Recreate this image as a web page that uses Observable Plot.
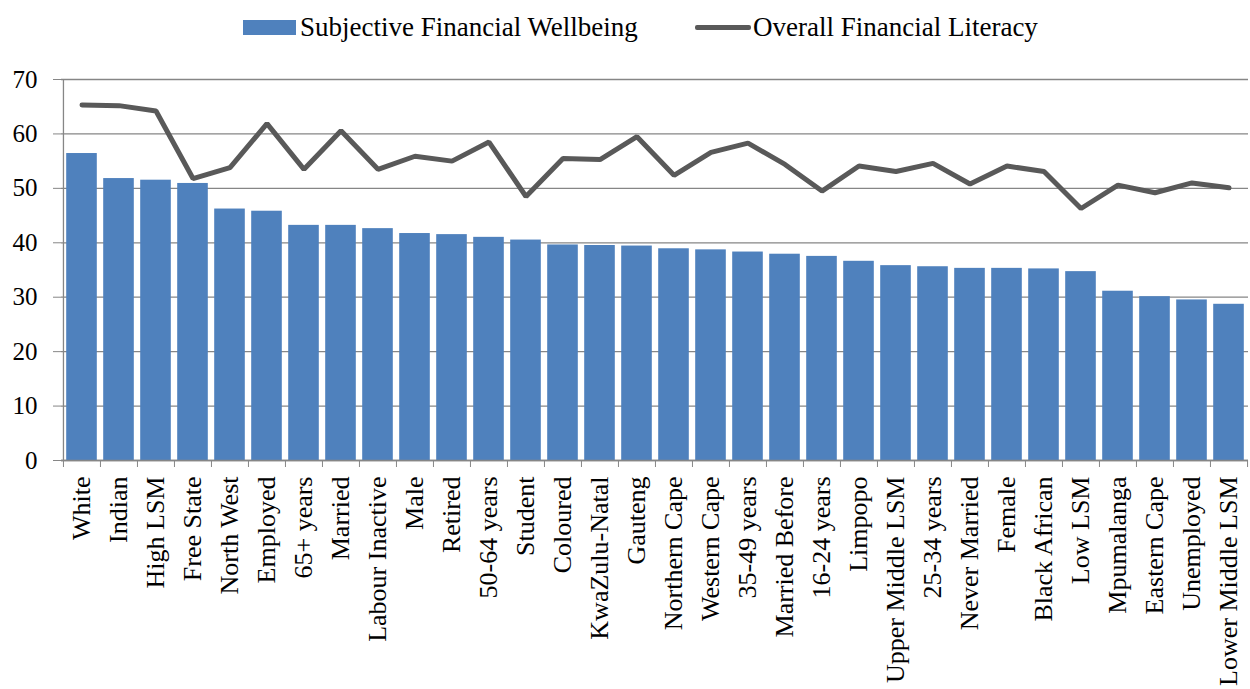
<!DOCTYPE html>
<html>
<head>
<meta charset="utf-8">
<script src="https://cdn.jsdelivr.net/npm/d3@7"></script>
<script src="https://cdn.jsdelivr.net/npm/@observablehq/plot@0.6"></script>
<style>
  html, body { margin: 0; padding: 0; background: #fff; }
  body { width: 1250px; height: 689px; overflow: hidden; font-family: "Liberation Serif", "Times New Roman", serif; }
  #legend { position: relative; height: 60px; }
  .lg { position: absolute; top: 12px; display: flex; align-items: center; font-size: 27px; color: #000; white-space: nowrap; }
  .sw-bar { width: 53px; height: 15px; background: #4F81BD; margin-right: 4px; }
  .sw-line { width: 56px; height: 5px; background: #595959; border-radius: 2px; margin-right: 2px; }
  #chart svg { display: block; }
  #chart svg text { font-family: "Liberation Serif", "Times New Roman", serif !important; }
</style>
</head>
<body>
<div id="legend">
  <div class="lg" style="left:243px"><div class="sw-bar"></div><span id="l1"></span></div>
  <div class="lg" style="left:695px"><div class="sw-line"></div><span id="l2"></span></div>
</div>
<div id="chart"></div>
<script>
const categories = ["White","Indian","High LSM","Free State","North West","Employed","65+ years","Married","Labour Inactive","Male","Retired","50-64 years","Student","Coloured","KwaZulu-Natal","Gauteng","Northern Cape","Western Cape","35-49 years","Married Before","16-24 years","Limpopo","Upper Middle LSM","25-34 years","Never Married","Female","Black African","Low LSM","Mpumalanga","Eastern Cape","Unemployed","Lower Middle LSM"];
const wellbeing = [56.4,51.8,51.5,50.9,46.2,45.8,43.2,43.2,42.6,41.7,41.5,41.0,40.5,39.6,39.5,39.4,38.9,38.7,38.3,37.9,37.5,36.6,35.8,35.6,35.3,35.3,35.2,34.7,31.1,30.1,29.5,28.7];
const literacy = [65.3,65.2,64.2,51.8,53.8,61.9,53.5,60.6,53.5,55.9,55.0,58.5,48.5,55.5,55.3,59.5,52.4,56.6,58.3,54.4,49.5,54.1,53.1,54.6,50.8,54.1,53.1,46.3,50.6,49.2,51.0,50.1];
const yTicks = [0,10,20,30,40,50,60,70];
const seriesNames = ["Subjective Financial Wellbeing", "Overall Financial Literacy"];

document.getElementById("l1").textContent = seriesNames[0];
document.getElementById("l2").textContent = seriesNames[1];

const data = categories.map((c, i) => ({cat: c, wb: wellbeing[i], lit: literacy[i]}));

const W = 1250, H = 629, mL = 61, mR = 2, mT = 19, mB = 229;
const bw = (W - mL - mR) / categories.length;
const grid = "#868686";

const chart = Plot.plot({
  width: W, height: H,
  marginLeft: mL, marginRight: mR, marginTop: mT, marginBottom: mB,
  style: {background: "#fff", color: "#000"},
  x: {domain: categories, padding: 0, label: null},
  y: {domain: [0, 70], label: null},
  marks: [
    Plot.gridY(yTicks, {stroke: grid, strokeOpacity: 1, strokeWidth: 1.3}),
    Plot.barY(data, {x: "cat", y: "wb", fill: "#4F81BD", insetLeft: 3.2, insetRight: 3.2}),
    Plot.ruleY([0], {stroke: grid, strokeWidth: 1.3}),
    Plot.ruleX([categories[0]], {y1: 0, y2: 70, dx: -bw / 2, stroke: grid, strokeWidth: 1.3}),
    Plot.axisY({ticks: yTicks, tickSize: 8, tickPadding: 16, stroke: grid, fontSize: 25, tickFormat: d => String(d)}),
    Plot.axisX({tickSize: 7, dx: -bw / 2, stroke: grid, tickFormat: () => ""}),
    Plot.axisX({ticks: [categories[categories.length - 1]], tickSize: 7, dx: bw / 2, stroke: grid, tickFormat: () => ""}),
    Plot.axisX({tickSize: 0, tickPadding: 16, tickRotate: -90, fontSize: 26, fill: "#000"}),
    Plot.line(data, {x: "cat", y: "lit", stroke: "#595959", strokeWidth: 5, strokeLinejoin: "miter", strokeLinecap: "round"})
  ]
});
document.getElementById("chart").appendChild(chart);
</script>
</body>
</html>
